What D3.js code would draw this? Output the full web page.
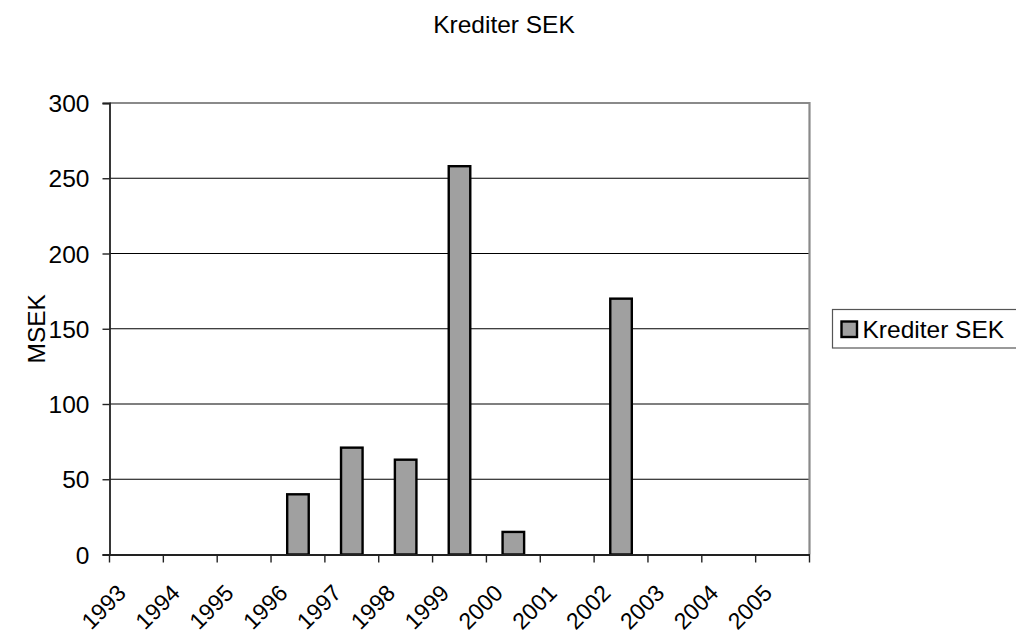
<!DOCTYPE html>
<html><head><meta charset="utf-8">
<script src="https://cdn.jsdelivr.net/npm/d3@7"></script>
<style>body{margin:0;background:#fff}svg{display:block}text{font-family:Arial,"Liberation Sans",sans-serif;fill:#000}</style>
</head><body><svg id="c" width="1016" height="633"></svg>
<script>
const title = "Krediter SEK";
const seriesName = "Krediter SEK";
const yLabel = "MSEK";
const years = ["1993","1994","1995","1996","1997","1998","1999","2000","2001","2002","2003","2004","2005"];
const values = [0,0,0,40,71,63,258,15,0,170,0,0,0];
const yTicks = [0,50,100,150,200,250,300];

const svg = d3.select("#c");
const L=109.5, R=809.5, T=103, B=554.5;
const xb = d3.scaleBand().domain(years).range([L,R]);
const y = d3.scaleLinear().domain([0,300]).range([B,T]);
const fs = 24.5;

// gridlines
svg.append("g").selectAll("line").data(yTicks.filter(d=>d>0&&d<300)).join("line")
  .attr("x1",L).attr("x2",R).attr("y1",d=>y(d)).attr("y2",d=>y(d))
  .attr("stroke","#000").attr("stroke-width",1.2);
// top & right border (gray)
svg.append("path").attr("d",`M${L},${T}H${R}V${B}`).attr("fill","none").attr("stroke","#8a8a8a").attr("stroke-width",2.2);

// bars
svg.append("g").selectAll("rect").data(values.map((v,i)=>({k:years[i],v}))).join("rect")
  .filter(d=>d.v>0)
  .attr("x",d=>xb(d.k)+xb.bandwidth()*0.3).attr("width",xb.bandwidth()*0.4)
  .attr("y",d=>y(d.v)).attr("height",d=>y(0)-y(d.v))
  .attr("fill","#a0a0a0").attr("stroke","#000").attr("stroke-width",2.4);

// y axis
const ya = svg.append("g").attr("transform",`translate(${L},0)`)
  .call(d3.axisLeft(y).tickValues(yTicks).tickSize(7).tickPadding(13).tickFormat(d3.format("d")));
ya.select(".domain").attr("stroke","#222").attr("stroke-width",1.8);
ya.selectAll(".tick line").attr("stroke","#222").attr("stroke-width",1.4);
ya.selectAll("text").attr("font-size",fs).attr("font-family","Arial, Liberation Sans, sans-serif").attr("dy","0.35em");

// x axis
const xa = svg.append("g").attr("transform",`translate(0,${B})`)
  .call(d3.axisBottom(xb).tickSize(0).tickFormat(""));
xa.select(".domain").attr("stroke","#222").attr("stroke-width",1.8);
svg.append("g").selectAll("line").data(d3.range(years.length+1)).join("line")
  .attr("x1",i=>L+i*xb.step()).attr("x2",i=>L+i*xb.step())
  .attr("y1",B).attr("y2",B+8).attr("stroke","#222").attr("stroke-width",1.4);
svg.append("g").selectAll("text").data(years).join("text")
  .attr("transform",d=>`translate(${xb(d)+xb.bandwidth()/2-9},${B+40}) rotate(-45)`)
  .attr("text-anchor","end").attr("font-size",23).text(d=>d);

// title
svg.append("text").attr("x",504).attr("y",32.5).attr("text-anchor","middle").attr("font-size",fs).text(title);
// y label
svg.append("text").attr("transform",`translate(45,${(T+B)/2}) rotate(-90)`).attr("text-anchor","middle").attr("font-size",fs).text(yLabel);

// legend
const lg = svg.append("g");
lg.append("rect").attr("x",832.5).attr("y",309.5).attr("width",200).attr("height",38.5)
  .attr("fill","#fff").attr("stroke","#555").attr("stroke-width",1.2);
lg.append("rect").attr("x",841.5).attr("y",321.5).attr("width",15.5).attr("height",15.5)
  .attr("fill","#a0a0a0").attr("stroke","#000").attr("stroke-width",2.4);
lg.append("text").attr("x",862.5).attr("y",337.5).attr("font-size",fs).text(seriesName);
</script></body></html>
